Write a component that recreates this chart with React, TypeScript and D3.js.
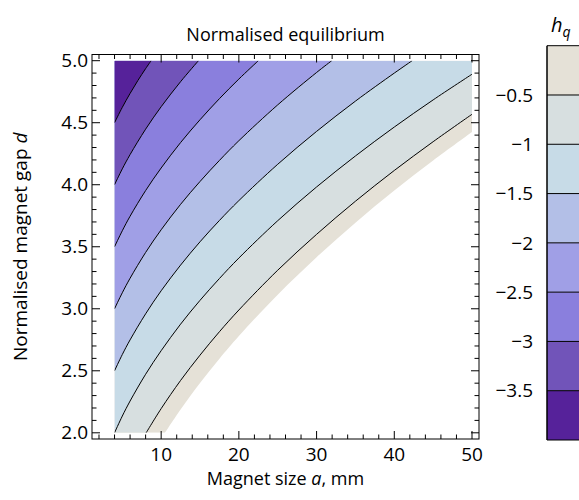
import React from "react";
import * as d3 from "d3";

// axis ticks
const A_MAJOR = [10, 20, 30, 40, 50];
const D_MAJOR = [2.0, 2.5, 3.0, 3.5, 4.0, 4.5, 5.0];
const D_LABELS = ["2.0", "2.5", "3.0", "3.5", "4.0", "4.5", "5.0"];

// colour bar
const CB_TICKS = [-0.5, -1, -1.5, -2, -2.5, -3, -3.5];
const CB_LABELS = ["−0.5", "−1", "−1.5", "−2", "−2.5", "−3", "−3.5"];
// band colours from the top (0 … −0.5) down to (−3.5 … −4)
const BAND_COLORS = [
  "#e5e1d7", "#d7dfe0", "#c7dbe7", "#b3bfe7",
  "#a09fe6", "#8a7fdd", "#7154b9", "#56229a",
];

// contours: [a (mm), d]
const EDGE = [[10.5, 2.0], [12.5, 2.187], [15, 2.401], [17.5, 2.597], [20, 2.78], [25, 3.114], [30, 3.416], [35, 3.694], [40, 3.953], [45, 4.195], [50, 4.425]];
const C_05 = [[8.07, 2.0], [10, 2.195], [12.5, 2.422], [15, 2.626], [17.5, 2.815], [20, 2.99], [25, 3.311], [30, 3.6], [35, 3.867], [40, 4.115], [45, 4.347], [50, 4.568]];
const C_10 = [[4, 2.0], [5, 2.135], [6, 2.256], [8, 2.472], [10, 2.662], [12.5, 2.876], [15, 3.068], [17.5, 3.244], [20, 3.409], [25, 3.71], [30, 3.982], [35, 4.232], [40, 4.465], [45, 4.684], [50, 4.891]];
const C_15 = [[4, 2.5], [5, 2.631], [6, 2.749], [8, 2.959], [10, 3.145], [12.5, 3.352], [15, 3.54], [17.5, 3.712], [20, 3.872], [25, 4.165], [30, 4.43], [35, 4.674], [40, 4.9], [42.3, 5.0]];
const C_20 = [[4, 3.0], [5, 3.129], [6, 3.246], [8, 3.454], [10, 3.637], [12.5, 3.842], [15, 4.026], [17.5, 4.196], [20, 4.355], [25, 4.644], [30, 4.905], [31.95, 5.0]];
const C_25 = [[4, 3.5], [5, 3.629], [6, 3.746], [8, 3.953], [10, 4.135], [12.5, 4.34], [15, 4.524], [17.5, 4.694], [20, 4.852], [22.5, 5.0]];
const C_30 = [[4, 4.0], [5, 4.128], [6, 4.243], [8, 4.448], [10, 4.629], [12.5, 4.831], [14.8, 5.0]];
const C_35 = [[4, 4.5], [5, 4.624], [6, 4.736], [7, 4.84], [8, 4.936], [8.71, 5.0]];

const A_MIN = 4, A_MAX = 50, D_MIN = 2, D_MAX = 5;
const FONT = "Open Sans, sans-serif";

export default function App() {
  const x = d3.scaleLinear().domain([1.1, 50.9]).range([92, 479]);
  const y = d3.scaleLinear().domain([1.95, 5.05]).range([439, 54.5]);
  const cb = d3.scaleLinear().domain([-4, 0]).range([440, 45.7]);

  const line = d3.line<number[]>()
    .x(p => x(p[0]))
    .y(p => y(p[1]))
    .curve(d3.curveCatmullRom.alpha(0.5));

  // area above / left of a contour, closed round the data box
  const region = (pts: number[][]) => {
    const first = pts[0], last = pts[pts.length - 1];
    let s = line(pts) as string;
    if (last[0] >= A_MAX) s += `L${x(A_MAX)},${y(D_MAX)}`;
    s += `L${x(A_MIN)},${y(D_MAX)}`;
    if (first[1] <= D_MIN) s += `L${x(A_MIN)},${y(D_MIN)}`;
    return s + "Z";
  };

  const fills = [EDGE, C_05, C_10, C_15, C_20, C_25, C_30, C_35];
  const lines = [C_05, C_10, C_15, C_20, C_25, C_30, C_35];

  const aMinor = d3.range(2, 51, 2).filter(v => v % 10 !== 0);
  const dMinor = d3.range(20, 51).filter(v => v % 5 !== 0).map(v => v / 10);

  const [fx0, fx1] = x.range();
  const [fy0, fy1] = y.range();
  const cbX = 547;

  return (
    <svg width={579} height={500} style={{ position: "absolute", left: 0, top: 0 }}
      fontFamily={FONT}>
      <defs>
        <clipPath id="box">
          <rect x={x(A_MIN)} y={y(D_MAX)} width={x(A_MAX) - x(A_MIN)} height={y(D_MIN) - y(D_MAX)} />
        </clipPath>
      </defs>

      <g clipPath="url(#box)">
        {fills.map((pts, i) => (
          <path key={i} d={region(pts)} fill={BAND_COLORS[i]} />
        ))}
        {lines.map((pts, i) => (
          <path key={i} d={line(pts) as string} fill="none" stroke="#000" strokeWidth={1} />
        ))}
      </g>

      {/* frame */}
      <rect x={fx0} y={fy1} width={fx1 - fx0} height={fy0 - fy1} fill="none" stroke="#000" strokeWidth={1} />

      {/* ticks, inward on all sides */}
      <g stroke="#000" strokeWidth={1}>
        {A_MAJOR.map(v => (
          <g key={"am" + v}>
            <line x1={x(v)} x2={x(v)} y1={fy0} y2={fy0 - 8} />
            <line x1={x(v)} x2={x(v)} y1={fy1} y2={fy1 + 8} />
          </g>
        ))}
        {aMinor.map(v => (
          <g key={"an" + v}>
            <line x1={x(v)} x2={x(v)} y1={fy0} y2={fy0 - 4.5} />
            <line x1={x(v)} x2={x(v)} y1={fy1} y2={fy1 + 4.5} />
          </g>
        ))}
        {D_MAJOR.map(v => (
          <g key={"dm" + v}>
            <line y1={y(v)} y2={y(v)} x1={fx0} x2={fx0 + 8} />
            <line y1={y(v)} y2={y(v)} x1={fx1} x2={fx1 - 8} />
          </g>
        ))}
        {dMinor.map(v => (
          <g key={"dn" + v}>
            <line y1={y(v)} y2={y(v)} x1={fx0} x2={fx0 + 4.5} />
            <line y1={y(v)} y2={y(v)} x1={fx1} x2={fx1 - 4.5} />
          </g>
        ))}
      </g>

      {/* tick labels */}
      <g fontSize={19} fill="#000">
        {A_MAJOR.map(v => (
          <text key={v} x={x(v)} y={fy0 + 22} textAnchor="middle">{v}</text>
        ))}
        {D_MAJOR.map((v, i) => (
          <text key={v} x={fx0 - 4} y={y(v)} dy="0.35em" textAnchor="end">{D_LABELS[i]}</text>
        ))}
      </g>

      <text x={(fx0 + fx1) / 2} y={41} textAnchor="middle" fontSize={18}>Normalised equilibrium</text>
      <text x={(fx0 + fx1) / 2} y={485} textAnchor="middle" fontSize={18}>
        Magnet size <tspan fontStyle="italic">a</tspan>, mm
      </text>
      <text transform={`translate(27,${(fy0 + fy1) / 2}) rotate(-90)`} textAnchor="middle" fontSize={19}>
        Normalised magnet gap <tspan fontStyle="italic">d</tspan>
      </text>

      {/* colour bar */}
      {BAND_COLORS.map((c, i) => (
        <rect key={c} x={cbX} y={cb(-0.5 * i)} width={40} height={cb(-0.5 * (i + 1)) - cb(-0.5 * i)} fill={c} />
      ))}
      <g stroke="#000" strokeWidth={1}>
        {CB_TICKS.map(v => (
          <line key={v} x1={cbX} x2={cbX + 40} y1={cb(v)} y2={cb(v)} />
        ))}
        <line x1={cbX} x2={cbX} y1={cb(0)} y2={cb(-4)} strokeWidth={1.5} />
        <line x1={cbX} x2={cbX + 40} y1={cb(0)} y2={cb(0)} />
        <line x1={cbX} x2={cbX + 40} y1={cb(-4)} y2={cb(-4)} />
      </g>
      <g fontSize={19} fill="#000">
        {CB_TICKS.map((v, i) => (
          <text key={v} x={533} y={cb(v)} dy="0.35em" textAnchor="end">{CB_LABELS[i]}</text>
        ))}
      </g>
      <text x={551} y={32} fontSize={20} fontStyle="italic">
        h<tspan fontSize={14} dy={5}>q</tspan>
      </text>
    </svg>
  );
}
